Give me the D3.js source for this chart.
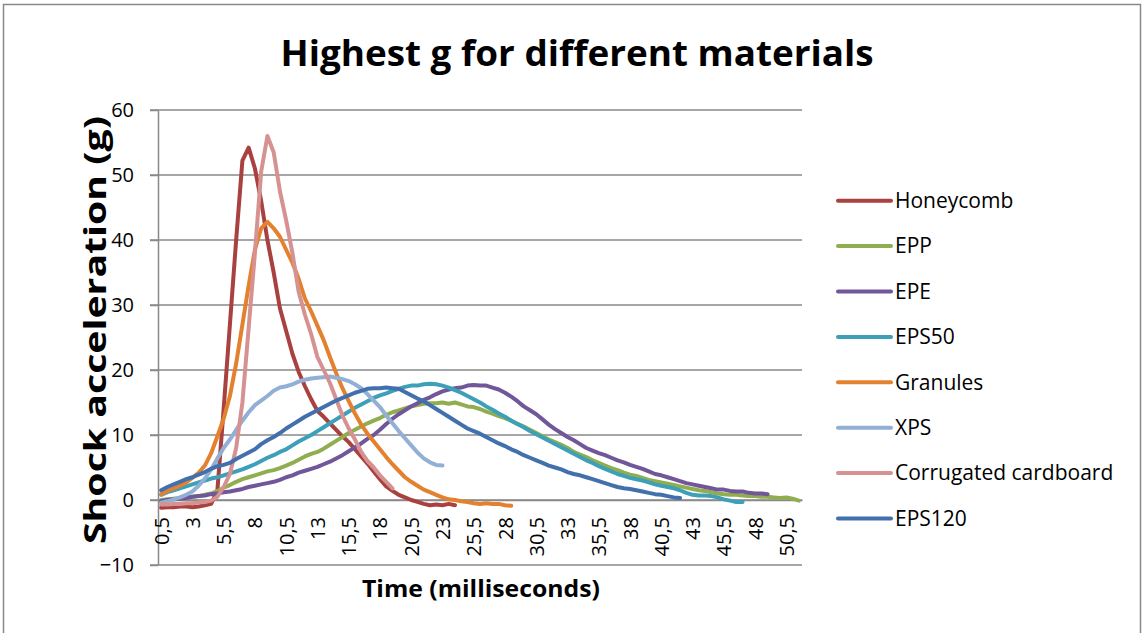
<!DOCTYPE html>
<html>
<head>
<meta charset="utf-8">
<script src="https://cdn.jsdelivr.net/npm/d3@7"></script>
<style>
  body { margin: 0; background: #fff; }
  svg { font-family: "Open Sans", "Noto Sans", sans-serif; }
</style>
</head>
<body>
<div id="chart-container"></div>
<script>
// time in ms, one category every 0,5 ms
const times = [0.5, 1, 1.5, 2, 2.5, 3, 3.5, 4, 4.5, 5, 5.5, 6, 6.5, 7, 7.5, 8, 8.5, 9, 9.5, 10,
  10.5, 11, 11.5, 12, 12.5, 13, 13.5, 14, 14.5, 15, 15.5, 16, 16.5, 17, 17.5, 18, 18.5, 19, 19.5, 20,
  20.5, 21, 21.5, 22, 22.5, 23, 23.5, 24, 24.5, 25, 25.5, 26, 26.5, 27, 27.5, 28, 28.5, 29, 29.5, 30,
  30.5, 31, 31.5, 32, 32.5, 33, 33.5, 34, 34.5, 35, 35.5, 36, 36.5, 37, 37.5, 38, 38.5, 39, 39.5, 40,
  40.5, 41, 41.5, 42, 42.5, 43, 43.5, 44, 44.5, 45, 45.5, 46, 46.5, 47, 47.5, 48, 48.5, 49, 49.5, 50,
  50.5, 51, 51.5];

const tickLabels = ["0,5", "3", "5,5", "8", "10,5", "13", "15,5", "18", "20,5", "23", "25,5",
  "28", "30,5", "33", "35,5", "38", "40,5", "43", "45,5", "48", "50,5"];

const yTicks = [-10, 0, 10, 20, 30, 40, 50, 60];

const seriesNames = ["Honeycomb", "EPP", "EPE", "EPS50", "Granules", "XPS", "Corrugated cardboard", "EPS120"];
const seriesColors = ["#a8413f", "#90ae4f", "#71579a", "#3d9fb8", "#e4812f", "#92afd6", "#d59291", "#4270ad"];

// every series starts at 0,5 ms
const honeycomb = [-1.2, -1.1, -1.1, -1.0, -1.0, -1.1, -1.0, -0.8, -0.6, 1.5,
  14, 27, 40, 52.2, 54.2, 51, 46, 40, 35, 29.5,
  26, 22.5, 19.7, 17.5, 15.5, 13.7, 12.8, 11.8, 10.8, 9.8,
  8.9, 7.8, 6.7, 5.6, 4.4, 3.2, 2.1, 1.4, 0.8, 0.4,
  0, -0.3, -0.6, -0.8, -0.7, -0.8, -0.6, -0.8];

const epp = [0.0, 0.1, 0.2, 0.3, 0.4, 0.5, 0.6, 0.8, 1.0, 1.4,
  1.9, 2.3, 2.8, 3.2, 3.5, 3.8, 4.1, 4.4, 4.6, 4.9,
  5.3, 5.7, 6.2, 6.7, 7.1, 7.4, 7.9, 8.5, 9.1, 9.7,
  10.3, 10.8, 11.3, 11.8, 12.2, 12.6, 13.1, 13.5, 13.8, 14.1,
  14.4, 14.6, 14.8, 14.9, 14.9, 15.0, 14.8, 15.0, 14.7, 14.4,
  14.3, 14.0, 13.6, 13.3, 12.9, 12.6, 12.2, 11.7, 11.3, 10.8,
  10.3, 9.8, 9.3, 8.9, 8.5, 8.0, 7.4, 7.0, 6.6, 6.1,
  5.7, 5.3, 4.9, 4.6, 4.2, 3.9, 3.7, 3.4, 3.1, 2.9,
  2.7, 2.5, 2.3, 2.1, 1.9, 1.7, 1.5, 1.4, 1.2, 1.0,
  0.9, 0.8, 0.8, 0.7, 0.6, 0.6, 0.5, 0.5, 0.4, 0.3,
  0.4, 0.2, -0.1];

const epe = [-0.2, 0.0, 0.1, 0.2, 0.3, 0.5, 0.6, 0.7, 0.9, 1.0,
  1.2, 1.3, 1.5, 1.7, 2.0, 2.2, 2.4, 2.6, 2.8, 3.1,
  3.5, 3.8, 4.2, 4.5, 4.8, 5.1, 5.5, 5.9, 6.4, 6.9,
  7.5, 8.1, 8.7, 9.4, 10.0, 10.8, 11.7, 12.5, 13.2, 13.8,
  14.4, 14.9, 15.4, 15.8, 16.3, 16.7, 17.0, 17.2, 17.3, 17.6,
  17.7, 17.6, 17.6, 17.3, 17.0, 16.5, 15.9, 15.2, 14.4, 13.8,
  13.2, 12.4, 11.6, 10.9, 10.3, 9.7, 9.2, 8.6, 8.0, 7.6,
  7.2, 6.9, 6.5, 6.1, 5.8, 5.4, 5.1, 4.8, 4.4, 4.0,
  3.8, 3.5, 3.2, 2.9, 2.6, 2.4, 2.2, 2.0, 1.8, 1.6,
  1.6, 1.4, 1.3, 1.3, 1.1, 1.0, 1.0, 0.9];

const eps50 = [0.8, 1.2, 1.5, 1.8, 2.1, 2.4, 2.7, 3.0, 3.3, 3.5,
  3.8, 4.1, 4.4, 4.7, 5.1, 5.5, 6.0, 6.5, 6.9, 7.4,
  7.8, 8.4, 9.0, 9.5, 10.0, 10.6, 11.2, 11.8, 12.4, 13.0,
  13.6, 14.2, 14.7, 15.2, 15.7, 16.1, 16.4, 16.8, 17.1, 17.4,
  17.6, 17.6, 17.8, 17.9, 17.8, 17.6, 17.3, 16.9, 16.5, 16.0,
  15.5, 15.0, 14.4, 13.9, 13.3, 12.8, 12.2, 11.7, 11.2, 10.6,
  10.1, 9.6, 9.1, 8.6, 8.1, 7.6, 7.1, 6.6, 6.1, 5.7,
  5.2, 4.8, 4.4, 4.0, 3.7, 3.4, 3.2, 3.0, 2.7, 2.4,
  2.2, 2.0, 1.8, 1.5, 1.1, 0.8, 0.7, 0.7, 0.6, 0.4,
  0.1, -0.1, -0.3, -0.3];

const granules = [0.9, 1.4, 1.8, 2.2, 2.7, 3.4, 4.2, 5.3, 7.2, 9.8,
  12.5, 16, 21, 27, 33, 38.5, 41.8, 42.8, 41.8, 40.5,
  38.5, 36.5, 34, 31, 29, 26.8, 24.6, 22, 19.5, 17.2,
  15.2, 13.3, 11.6, 10.2, 9, 7.8, 6.6, 5.5, 4.5, 3.5,
  2.8, 2.2, 1.6, 1.2, 0.8, 0.4, 0.1, 0, -0.2, -0.3,
  -0.5, -0.6, -0.5, -0.6, -0.6, -0.8, -0.9];

const xps = [-0.4, -0.2, 0.1, 0.4, 0.8, 1.3, 2.2, 3.3, 4.7, 6.4,
  8, 9.3, 10.8, 12.2, 13.5, 14.6, 15.3, 16, 16.8, 17.3,
  17.5, 17.8, 18.2, 18.5, 18.7, 18.8, 18.9, 19, 18.8, 18.6,
  18.3, 17.8, 17.2, 16.3, 15.3, 14.3, 13, 11.8, 10.6, 9.5,
  8.4, 7.3, 6.4, 5.8, 5.4, 5.3];

const cardboard = [-0.7, -0.7, -0.6, -0.6, -0.5, -0.5, -0.4, -0.3, -0.1, 0.5,
  2, 4, 8, 15, 26.5, 38, 50.5, 56, 53.5, 47.5,
  43, 38, 32, 28.5, 25.5, 22, 20, 18, 15.5, 13,
  11, 9.3, 7.4, 6, 5, 3.8, 2.8, 1.8];

const eps120 = [1.5, 2.0, 2.4, 2.8, 3.2, 3.5, 3.9, 4.3, 4.8, 5.2,
  5.4, 5.7, 6.3, 6.8, 7.3, 7.8, 8.6, 9.2, 9.7, 10.3,
  11, 11.6, 12.2, 12.8, 13.3, 13.8, 14.3, 14.8, 15.3, 15.7,
  16.1, 16.5, 16.8, 17.1, 17.2, 17.2, 17.3, 17.2, 17.1, 16.6,
  16.1, 15.6, 15.2, 14.6, 14, 13.4, 12.8, 12.2, 11.6, 11,
  10.6, 10.2, 9.7, 9.2, 8.7, 8.3, 7.8, 7.4, 6.9, 6.5,
  6.1, 5.7, 5.3, 5.0, 4.7, 4.3, 4.0, 3.8, 3.5, 3.2,
  2.9, 2.6, 2.3, 2.0, 1.8, 1.7, 1.5, 1.3, 1.1, 0.9,
  0.8, 0.6, 0.4, 0.3];

const allSeries = [honeycomb, epp, epe, eps50, granules, xps, cardboard, eps120];

const width = 1143;
const height = 633;
const plot = { left: 158, right: 802, top: 110, bottom: 565 };
const gridColor = "#898989";

const svg = d3.select("#chart-container")
  .append("svg")
  .attr("width", width)
  .attr("height", height);

svg.append("rect")
  .attr("x", 3.5)
  .attr("y", 4.5)
  .attr("width", 1137)
  .attr("height", 640)
  .attr("fill", "#fff")
  .attr("stroke", gridColor)
  .attr("stroke-width", 1.5);

const xScale = d3.scalePoint()
  .domain(times)
  .range([plot.left, plot.right])
  .padding(0.5);

const yScale = d3.scaleLinear()
  .domain([-10, 60])
  .range([plot.bottom, plot.top]);

// horizontal gridlines
svg.append("g")
  .selectAll("line")
  .data(yTicks)
  .enter()
  .append("line")
  .attr("x1", plot.left - 8)
  .attr("x2", plot.right)
  .attr("y1", d => yScale(d))
  .attr("y2", d => yScale(d))
  .attr("stroke", gridColor)
  .attr("stroke-width", 1.5);

const yAxis = svg.append("g")
  .attr("transform", `translate(${plot.left},0)`)
  .call(d3.axisLeft(yScale).tickValues(yTicks).tickSize(8).tickSizeOuter(0).tickPadding(16));

yAxis.select(".domain").attr("stroke", gridColor).attr("stroke-width", 1.5);
yAxis.selectAll(".tick line").attr("stroke", gridColor).attr("stroke-width", 1.5);
yAxis.selectAll("text")
  .attr("font-family", "Open Sans")
  .attr("font-size", "20px")
  .attr("fill", "#000");

const tickTimes = times.filter((t, i) => tickLabels.includes(String(t).replace(".", ",")));

const xAxis = svg.append("g")
  .attr("transform", `translate(0,${yScale(0)})`)
  .call(d3.axisBottom(xScale).tickValues(tickTimes).tickSize(0).tickSizeOuter(0)
    .tickFormat(d => tickLabels[tickTimes.indexOf(d)]));

xAxis.select(".domain").attr("stroke", gridColor).attr("stroke-width", 1.5);
xAxis.selectAll("text")
  .attr("font-family", "Open Sans")
  .attr("font-size", "20px")
  .attr("fill", "#000")
  .attr("transform", "rotate(-90)")
  .attr("x", -17)
  .attr("y", 0)
  .attr("dy", "0.35em")
  .attr("text-anchor", "end");

const line = d3.line()
  .x((d, i) => xScale(times[i]))
  .y(d => yScale(d));

svg.append("g")
  .selectAll("path")
  .data(allSeries)
  .enter()
  .append("path")
  .attr("d", d => line(d))
  .attr("fill", "none")
  .attr("stroke", (d, i) => seriesColors[i])
  .attr("stroke-width", 4)
  .attr("stroke-linejoin", "round")
  .attr("stroke-linecap", "round");

// legend
const legend = svg.append("g")
  .selectAll("g")
  .data(seriesNames)
  .enter()
  .append("g")
  .attr("transform", (d, i) => `translate(838,${200.7 + i * 45.4})`);

legend.append("line")
  .attr("x1", 0)
  .attr("x2", 53)
  .attr("stroke", (d, i) => seriesColors[i])
  .attr("stroke-width", 4)
  .attr("stroke-linecap", "round");

legend.append("text")
  .attr("x", 57)
  .attr("dy", "0.35em")
  .attr("font-size", "21px")
  .attr("fill", "#000")
  .text(d => d);

svg.append("text")
  .attr("x", 577)
  .attr("y", 66)
  .attr("text-anchor", "middle")
  .attr("font-size", "36px")
  .attr("font-weight", "bold")
  .attr("textLength", 593)
  .attr("lengthAdjust", "spacingAndGlyphs")
  .text("Highest g for different materials");

svg.append("text")
  .attr("transform", "translate(106,330) rotate(-90)")
  .attr("text-anchor", "middle")
  .attr("font-size", "30px")
  .attr("font-weight", "bold")
  .attr("textLength", 428)
  .attr("lengthAdjust", "spacingAndGlyphs")
  .text("Shock acceleration (g)");

svg.append("text")
  .attr("x", 481)
  .attr("y", 597)
  .attr("text-anchor", "middle")
  .attr("font-size", "24px")
  .attr("font-weight", "bold")
  .attr("textLength", 238)
  .attr("lengthAdjust", "spacingAndGlyphs")
  .text("Time (milliseconds)");
</script>
</body>
</html>
